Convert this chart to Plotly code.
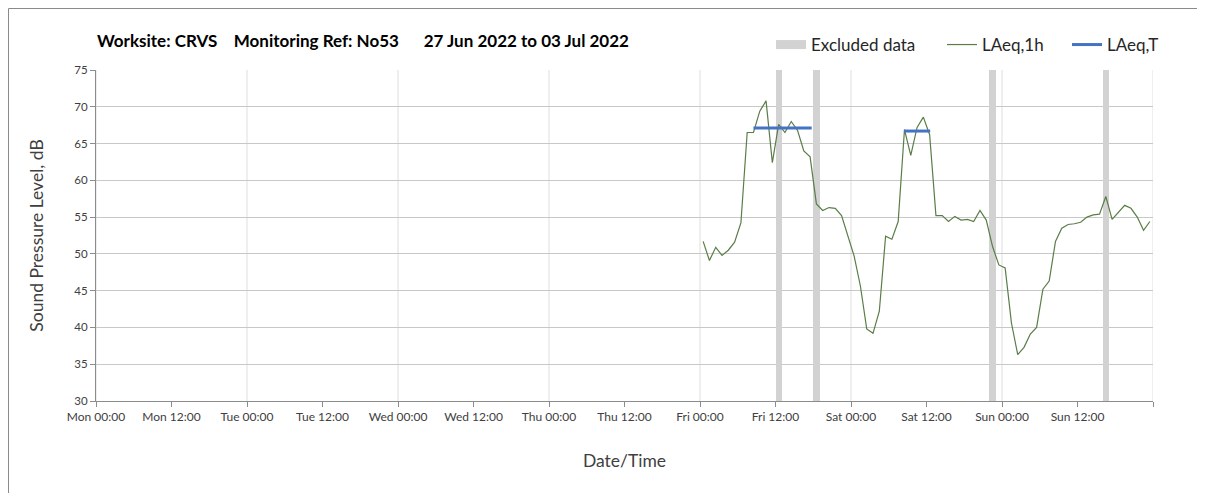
import pandas as pd
import plotly.graph_objects as go

# ---- data ----
first_hour_mid = "2022-07-01 00:30"
laeq_1h = [
    51.7, 49.1, 50.9, 49.8, 50.5, 51.6, 54.2, 66.5, 66.5, 69.4, 70.8, 62.4,
    67.6, 66.5, 68.0, 66.8, 64.0, 63.2, 56.8, 55.9, 56.3, 56.2, 55.2, 52.4,
    49.7, 45.6, 39.8, 39.2, 42.2, 52.4, 52.0, 54.4, 66.9, 63.4, 67.2, 68.6,
    66.2, 55.2, 55.2, 54.4, 55.1, 54.6, 54.7, 54.4, 55.9, 54.6, 51.0, 48.5,
    48.1, 40.6, 36.3, 37.3, 39.1, 40.0, 45.2, 46.3, 51.7, 53.5, 54.0, 54.1,
    54.3, 55.0, 55.3, 55.4, 57.8, 54.7, 55.6, 56.6, 56.2, 55.0, 53.2, 54.4,
]
times_1h = pd.date_range(first_hour_mid, periods=len(laeq_1h), freq="h")

excluded_start = ["2022-07-01 12:00", "2022-07-01 18:00", "2022-07-02 22:00", "2022-07-03 16:00"]

laeqT_start = ["2022-07-01 08:30", "2022-07-02 08:25"]
laeqT_end = ["2022-07-01 17:45", "2022-07-02 12:35"]
laeqT_value = [67.1, 66.7]

tick_times = pd.date_range("2022-06-27 00:00", "2022-07-04 00:00", freq="12h")
tick_text = [t.strftime("%a %H:%M") for t in tick_times[:-1]] + [""]
day_bounds = pd.date_range("2022-06-27", "2022-07-04", freq="D")

y_min, y_max = 30, 75
title_text = ("Worksite: CRVS&nbsp;&nbsp;&nbsp;&nbsp;Monitoring Ref: No53"
              "&nbsp;&nbsp;&nbsp;&nbsp;&nbsp;&nbsp;27 Jun 2022 to 03 Jul 2022")

FONT = "Lato"
TXT = "#262626"
AX = "#404040"

W, H = 1197, 485
ML, MR, MT, MB = 88, 52, 62, 92
PW, PH = W - ML - MR, H - MT - MB


def px_x(fx):
    return (fx - ML) / PW


def px_y(fy):
    return (H - MB - fy) / PH


fig = go.Figure()

# excluded data bars
ex_centers = [pd.Timestamp(s) + pd.Timedelta(minutes=30) for s in excluded_start]
fig.add_trace(go.Bar(
    x=ex_centers, y=[y_max - y_min] * len(ex_centers), base=[y_min] * len(ex_centers),
    width=[3600000] * len(ex_centers), marker=dict(color="#d2d2d2", line=dict(width=0)),
    showlegend=False, hoverinfo="skip",
))
# legend entry for excluded data
fig.add_trace(go.Scatter(
    x=[None], y=[None], mode="lines", name="Excluded data",
    line=dict(color="#d2d2d2", width=9), legend="legend",
))
fig.add_trace(go.Scatter(
    x=times_1h, y=laeq_1h, mode="lines", name="LAeq,1h",
    line=dict(color="#5a7d48", width=1.2), legend="legend2",
))
tx, ty = [], []
for s, e, v in zip(laeqT_start, laeqT_end, laeqT_value):
    tx += [s, e, None]
    ty += [v, v, None]
fig.add_trace(go.Scatter(
    x=tx, y=ty, mode="lines", name="LAeq,T",
    line=dict(color="#4472c4", width=3), legend="legend3",
))

shapes = []
for d in day_bounds:
    shapes.append(dict(type="line", xref="x", yref="y", x0=d, x1=d, y0=y_min, y1=y_max,
                       line=dict(color="#dedede", width=1), layer="below"))
# outer frame at figure edge
shapes.append(dict(type="line", xref="paper", yref="paper", x0=px_x(0.5), x1=px_x(W + 20),
                   y0=px_y(0.5), y1=px_y(0.5), line=dict(color="#8a8a8a", width=1)))
shapes.append(dict(type="line", xref="paper", yref="paper", x0=px_x(0.5), x1=px_x(0.5),
                   y0=px_y(H + 20), y1=px_y(0.5), line=dict(color="#8a8a8a", width=1)))

leg_common = dict(orientation="h", yanchor="middle", y=px_y(37), xanchor="left",
                  font=dict(size=17, color=TXT, family=FONT), bgcolor="rgba(0,0,0,0)",
                  borderwidth=0)

fig.update_layout(
    width=W, height=H,
    margin=dict(l=ML, r=MR, t=MT, b=MB),
    paper_bgcolor="white", plot_bgcolor="white",
    font=dict(family=FONT, color=TXT),
    title=dict(text="<b>" + title_text + "</b>", x=89 / W, xanchor="left", xref="container",
               y=1 - 33 / H, yanchor="middle", yref="container",
               font=dict(size=17, color="#000000", family=FONT)),
    showlegend=True,
    legend=dict(leg_common, x=px_x(763)),
    legend2=dict(leg_common, x=px_x(934)),
    legend3=dict(leg_common, x=px_x(1059)),
    shapes=shapes,
    bargap=0,
)
fig.update_xaxes(
    type="date", range=[day_bounds[0], day_bounds[-1]],
    tickvals=list(tick_times), ticktext=tick_text,
    showgrid=False, showline=True, linecolor="#8c8c8c", linewidth=1,
    ticks="outside", ticklen=5, tickcolor="#8c8c8c",
    tickfont=dict(size=12, color=AX, family=FONT),
    title=dict(text="Date/Time", font=dict(size=17.5, color=AX, family=FONT), standoff=31),
    zeroline=False,
)
fig.update_yaxes(
    range=[y_min, y_max], dtick=5, tick0=30,
    showgrid=True, gridcolor="#c8c8c8", gridwidth=1,
    showline=True, linecolor="#8c8c8c", linewidth=1,
    ticks="outside", ticklen=5, tickcolor="#8c8c8c",
    tickfont=dict(size=11.5, color=AX, family=FONT),
    title=dict(text="Sound Pressure Level, dB", font=dict(size=17.5, color=AX, family=FONT), standoff=26),
    zeroline=False,
)

fig.write_html("out.html")
